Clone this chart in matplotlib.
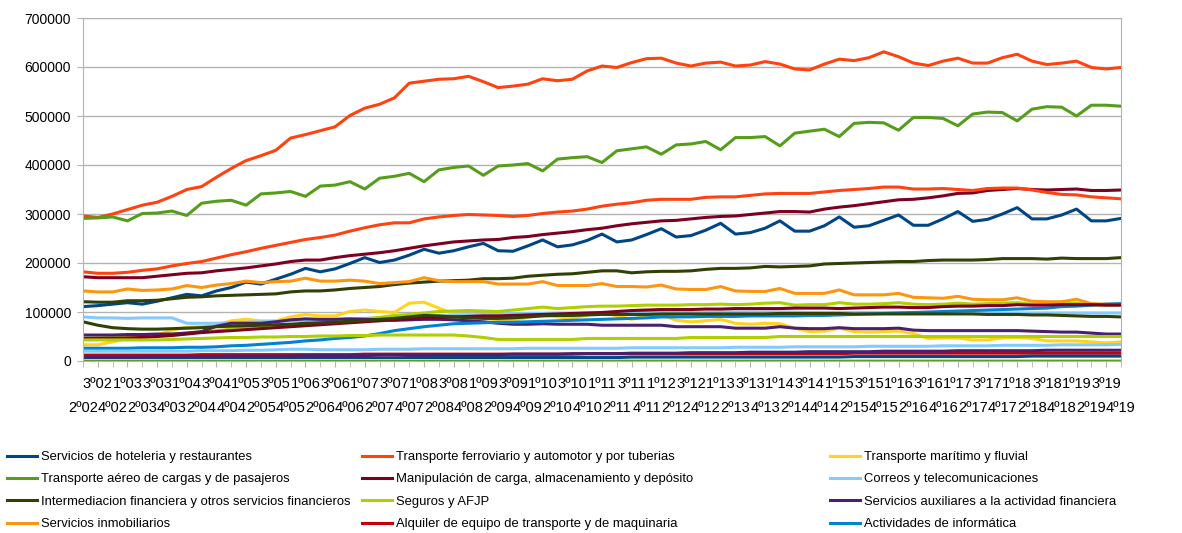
import matplotlib.pyplot as plt

plt.rcParams['font.family'] = ['Liberation Sans', 'DejaVu Sans']

# quarter labels 2º02 ... 4º19
years = range(2002, 2020)
quarters = [f"{q}º{str(y)[2:]}" for y in years for q in (1, 2, 3, 4)][1:]

# values in thousands
hoteleria = [111, 113, 116, 119, 116, 122, 129, 136, 133, 143, 150, 161, 157, 167, 177, 189, 182, 188, 199, 211, 201, 206,
             216, 228, 220, 225, 233, 240, 225, 224, 235, 247, 233, 237, 246, 259, 243, 247, 258, 270, 253, 256,
             267, 281, 259, 262, 271, 286, 265,
             265, 276, 294, 273, 276, 287, 298, 277, 277, 290, 305, 285, 289, 300, 313, 290, 290, 298, 310, 286,
             286, 291]
ferroviario = [296, 293, 300, 309, 318, 324, 336, 350, 356, 375, 393, 409, 419, 430, 455, 462, 470, 478, 501, 516, 524, 537,
               567, 571, 575, 576, 581, 570, 558, 561, 565, 576, 572, 575, 592, 602, 599, 609, 617, 618, 608, 602,
               608, 610, 602, 604, 611, 606, 596,
               594, 606, 616, 613, 619, 631, 621, 608, 603, 612, 618, 608, 608, 619, 626, 612, 605, 608, 612, 599,
               596, 599]
maritimo = [33, 33, 39, 46, 50, 53, 63, 69, 70, 73, 82, 85, 82, 82, 90, 95, 92, 92, 101, 104, 101, 99,
            118, 120, 108, 96, 94, 89, 82, 83, 89, 96, 90, 87, 94, 99, 92, 85, 92, 94, 83, 80,
            82, 85, 77, 75, 77, 76, 67,
            60, 61, 67, 60, 59, 60, 61, 56, 46, 47, 47, 43, 43, 47, 48, 46, 41, 41, 41, 39,
            37, 39]
aereo = [291, 292, 294, 286, 301, 302, 306, 297, 322, 326, 328, 318, 341, 343, 346, 336, 357, 359, 366, 351, 373, 377,
         383, 366, 390, 395, 398, 379, 398, 400, 403, 388, 412, 415, 417, 405, 429, 433, 437, 422, 441, 443,
         448, 431, 456, 456, 458, 439, 465,
         469, 473, 458, 485, 487, 486, 471, 497, 497, 495, 480, 504, 508, 507, 490, 514, 519, 518, 500, 522,
         522, 520]
manipulacion = [172, 170, 170, 170, 170, 173, 176, 179, 180, 184, 187, 190, 194, 198, 203, 206, 206, 211, 215, 218, 221, 225,
                230, 235, 239, 243, 245, 247, 248, 252, 254, 258, 261, 264, 268, 271, 276, 280, 283, 286, 287, 290,
                293, 295, 296, 299, 302, 305, 305,
                304, 310, 314, 317, 321, 325, 329, 330, 333, 337, 342, 343, 348, 350, 352, 350, 349, 350, 351, 348,
                348, 349]
correos = [90, 88, 88, 87, 88, 88, 88, 77, 77, 77, 78, 79, 80, 81, 82, 83, 84, 85, 86, 87, 88, 89,
           90, 91, 92, 93, 94, 95, 96, 97, 97, 97, 98, 98, 98, 98, 99, 99, 99, 99, 99,
           99, 99, 100, 100, 100, 100, 100, 100, 99, 99,
           99, 99, 99, 99, 99, 98, 98, 98, 98, 98,
           98, 98, 98, 98, 98, 98, 98, 98, 98, 98]
intermediacion = [121, 120, 120, 123, 123, 124, 127, 130, 131, 133, 134, 135, 136, 137, 141, 143, 143, 145, 148, 150, 152, 156,
                  159, 161, 163, 164, 165, 168, 168, 169, 173, 175, 177, 178, 181, 184, 184, 180, 182, 183, 183, 184,
                  187, 189, 189, 190, 193,
                  192, 193, 194, 198, 199, 200, 201, 202, 203, 203, 205, 206, 206, 206, 207, 209, 209, 209, 208, 210,
                  209, 209, 209, 211]
seguros = [46, 47, 48, 49, 51, 53, 55, 57, 59, 62, 65, 67, 68, 70, 72, 74, 77, 80, 83, 86, 89, 93,
           95, 98, 101, 102, 103, 102, 101, 104, 107, 110, 107, 109, 111, 112, 112, 113, 114, 114, 114, 115,
           115, 116, 115, 116, 118,
           119, 114, 115, 115, 119, 116, 116, 117, 119, 116, 115, 116, 118, 116, 117, 118, 119, 116, 116, 117,
           118, 114, 114, 114]
auxiliares = [53, 53, 53, 54, 54, 55, 55, 57, 60, 71, 77, 77, 77, 80, 84, 86, 85, 85, 86, 85, 84, 83,
              84, 85, 85, 84, 82, 80, 77, 75, 75, 76, 75, 75, 75, 73, 73, 73, 73, 73, 70, 70,
              70, 70, 67, 67, 67,
              70, 67, 66, 66, 68, 66, 66, 66, 67, 63, 62, 62, 62, 62, 62, 62, 62, 61, 60, 59,
              59, 57, 55, 55]
inmobiliarios = [143, 141, 141, 147, 144, 145, 147, 154, 150, 155, 158, 163, 160, 162, 163, 169, 163, 163, 165, 163, 158, 160,
                 162, 170, 164, 162, 162, 162, 157, 157, 157, 162, 154, 154, 154, 158, 152, 152, 151, 155, 147, 146,
                 146, 152, 143, 142, 142, 148, 138,
                 138, 138, 145, 135, 135, 135, 138, 130, 129, 128, 132, 126, 125, 125, 129, 122, 121, 121, 126, 117,
                 116, 116]
alquiler = [12, 12, 12, 12, 12, 12, 12, 12, 13, 13,
            13, 13, 13, 13, 13, 13, 13, 13, 13, 14,
            14, 14, 14, 14, 14, 14, 14, 14, 14, 14,
            14, 14, 14, 14, 15, 15, 15, 15, 15, 15,
            15, 15, 15, 15, 15, 15, 15, 15, 15, 15,
            15, 15, 16, 16, 16, 16, 16, 16, 16, 16,
            16, 16, 16, 16, 16, 16, 16, 16, 16, 16,
            16]
informatica = [26, 26, 26, 26, 27, 27, 27, 28, 28, 29,
               31, 32, 34, 36, 38, 41, 43, 46, 48, 51,
               56, 62, 66, 70, 73, 76, 77, 78, 79, 79,
               80, 81, 82, 83, 84, 85, 86, 87, 88, 90,
               90, 90, 91, 91, 91, 92, 92, 92, 92, 93,
               93, 94, 95, 96, 97, 98, 99, 100, 101, 102,
               103, 104, 105, 106, 107, 108, 111, 112, 114, 116,
               117]

# remaining columns of the sheet (not listed in the legend)
extra_azul = [5, 5, 5, 5, 5, 5, 5, 5, 5, 6,
              6, 6, 6, 6, 6, 6, 6, 6, 6, 6,
              6, 6, 7, 7, 7, 7, 7, 7, 7, 7,
              7, 7, 7, 7, 7, 7, 7, 8, 8, 8,
              8, 8, 8, 8, 8, 8, 8, 8, 8, 8,
              8, 8, 9, 9, 9, 9, 9, 9, 9, 9,
              9, 9, 9, 9, 10, 10, 10, 10, 10, 10,
              10]
extra_naranja = [182, 179, 179, 181, 185, 188, 194, 199, 203, 210, 217, 223, 230, 236, 242, 248, 252, 257, 265, 272, 278, 282,
                 282, 290, 294, 297, 299, 298, 297, 295, 297, 301, 304, 306, 310, 316, 320, 323, 328, 330, 330, 330,
                 334, 335, 335, 338, 341, 342, 342,
                 342, 345, 348, 350, 352, 355, 355, 351, 351, 352, 350, 348, 352, 353, 353, 349, 344, 340, 339, 335,
                 333, 331]
extra_amarillo = [2, 2, 2, 2, 2, 2, 2, 2, 2, 2,
                  2, 2, 2, 2, 2, 2, 2, 2, 2, 2,
                  2, 2, 2, 2, 2, 2, 2, 2, 2, 2,
                  2, 2, 2, 2, 2, 2, 2, 2, 2, 2,
                  2, 2, 2, 2, 2, 2, 2, 2, 2, 2,
                  2, 2, 2, 2, 2, 2, 2, 2, 2, 2,
                  2, 2, 2, 2, 2, 2, 2, 2, 2, 2,
                  2]
extra_verde = [1, 1, 1, 1, 1, 1, 1, 1, 1, 1,
               1, 1, 1, 1, 1, 1, 1, 1, 1, 1,
               1, 1, 1, 1, 1, 1, 1, 1, 1, 1,
               1, 1, 1, 1, 1, 1, 1, 1, 1, 1,
               1, 1, 1, 1, 1, 1, 1, 1, 1, 1,
               1, 1, 1, 1, 1, 1, 1, 1, 1, 1,
               1, 1, 1, 1, 1, 1, 1, 1, 1, 1,
               1]
extra_bordo = [46, 46, 46, 47, 48, 50, 52, 55, 58, 60,
               62, 64, 66, 68, 70, 72, 74, 76, 78, 80,
               82, 84, 86, 88, 89, 90, 91, 92, 92, 93,
               94, 95, 96, 97, 98, 99, 101, 103, 104, 105,
               105, 105, 106, 106, 107, 107, 107, 107, 108, 108,
               108, 107, 108, 109, 110, 110, 109, 109, 111, 112,
               112, 113, 113, 115, 114, 114, 115, 115, 115, 114,
               114]
extra_celeste = [20, 20, 20, 20, 20, 20, 20, 20, 21, 21,
                 21, 22, 22, 23, 24, 24, 23, 23, 23, 23,
                 24, 24, 24, 25, 25, 25, 25, 25, 25, 25,
                 26, 26, 26, 26, 26, 26, 26, 27, 27, 27,
                 27, 27, 27, 27, 28, 28, 28, 28, 29, 29,
                 29, 29, 29, 30, 30, 30, 30, 30, 31, 31,
                 31, 31, 32, 32, 32, 32, 33, 33, 33, 33,
                 34]
extra_oliva = [80, 73, 68, 66, 65, 65, 66, 67, 68, 70,
               71, 72, 73, 74, 75, 77, 78, 79, 81, 83,
               85, 87, 90, 93, 92, 90, 88, 87, 87, 88,
               90, 92, 93, 93, 94, 95, 95, 95, 95, 96,
               96, 96, 96, 96, 96, 96, 96, 97, 97, 97,
               97, 97, 96, 96, 96, 96, 96, 96, 96, 96,
               96, 95, 95, 95, 94, 94, 93, 92, 91, 91,
               90]
extra_lima = [43, 43, 43, 43, 43, 43, 44, 45, 46, 47,
              48, 48, 49, 49, 50, 50, 51, 51, 52, 52,
              53, 53, 53, 53, 53, 53, 51, 48, 44, 44,
              44, 44, 44, 44, 46, 46, 46, 46, 46, 46,
              46, 48, 48, 48, 48, 48, 48, 50, 50, 50,
              50, 50, 50, 50, 50, 50, 50, 50, 50, 50,
              50, 50, 50, 50, 50, 50, 50, 50, 50, 50,
              50]
extra_violeta = [8, 8, 8, 8, 8, 9, 9, 9, 9, 9,
                 10, 10, 10, 10, 10, 11, 11, 11, 11, 11,
                 12, 12, 12, 12, 13, 13, 13, 13, 13, 14,
                 14, 14, 14, 15, 15, 15, 15, 16, 16, 16,
                 16, 17, 17, 17, 17, 18, 18, 18, 18, 19,
                 19, 19, 19, 19, 20, 20, 20, 20, 20, 21,
                 21, 21, 21, 21, 21, 22, 22, 22, 22, 22,
                 22]

names = ["Servicios de hoteleria y restaurantes",
         "Transporte ferroviario y automotor y por tuberias",
         "Transporte marítimo y fluvial",
         "Transporte aéreo de cargas y de pasajeros",
         "Manipulación de carga, almacenamiento y depósito",
         "Correos y telecomunicaciones",
         "Intermediacion financiera y otros servicios financieros",
         "Seguros y AFJP",
         "Servicios auxiliares a la actividad financiera",
         "Servicios inmobiliarios",
         "Alquiler de equipo de transporte y de maquinaria",
         "Actividades de informática"]

palette = ["#004586", "#ff420e", "#ffd320", "#579d1c", "#7e0021", "#83caff",
           "#314004", "#aecf00", "#4b1f6f", "#ff950e", "#c5000b", "#0084d1"]

series = [hoteleria, ferroviario, maritimo, aereo, manipulacion, correos,
          intermediacion, seguros, auxiliares, inmobiliarios, alquiler, informatica,
          extra_azul, extra_naranja, extra_amarillo, extra_verde, extra_bordo,
          extra_celeste, extra_oliva, extra_lima, extra_violeta]

fig = plt.figure(figsize=(11.82, 5.33), dpi=100)
ax = fig.add_axes([83 / 1182, 1 - 361 / 533, 1038 / 1182, 343 / 533])

x = list(range(len(quarters)))
lines = []
for k, vals in enumerate(series):
    ln, = ax.plot(x, [v * 1000 for v in vals], color=palette[k % 12], lw=2.2)
    lines.append(ln)

ax.set_xlim(0, len(quarters) - 1)
ax.set_ylim(0, 700000)
ax.set_yticks(range(0, 700001, 100000))
ax.set_yticklabels([str(v) for v in range(0, 700001, 100000)], fontsize=10)
ax.yaxis.grid(True, color="#b3b3b3", lw=1)
ax.set_axisbelow(True)
for s in ax.spines.values():
    s.set_color("#b3b3b3")

# staggered category labels: odd ones on the first row, even ones on the second
ax.set_xticks(x[1::2])
ax.set_xticklabels(quarters[1::2], fontsize=10.5)
ax.set_xticks(x[0::2], minor=True)
ax.set_xticklabels(quarters[0::2], minor=True, fontsize=10.5)
ax.tick_params(axis="x", which="both", length=4.5, color="#b3b3b3")
ax.tick_params(axis="x", which="major", pad=7)
ax.tick_params(axis="x", which="minor", pad=24)
ax.tick_params(axis="y", length=4.5, color="#b3b3b3", pad=4)

# legend: three columns, four rows, filled row by row
col_x = [7 / 1182, 362 / 1182, 830 / 1182]
for c in range(3):
    idx = [r * 3 + c for r in range(4)]
    fig.legend([lines[i] for i in idx], [names[i] for i in idx],
               loc="upper left", bbox_to_anchor=(col_x[c], 1 - 451 / 533),
               frameon=False, borderpad=0, borderaxespad=0,
               handlelength=2.27, handletextpad=0.3, labelspacing=0.78,
               fontsize=9.4)

fig.savefig("out.png", dpi=100)
